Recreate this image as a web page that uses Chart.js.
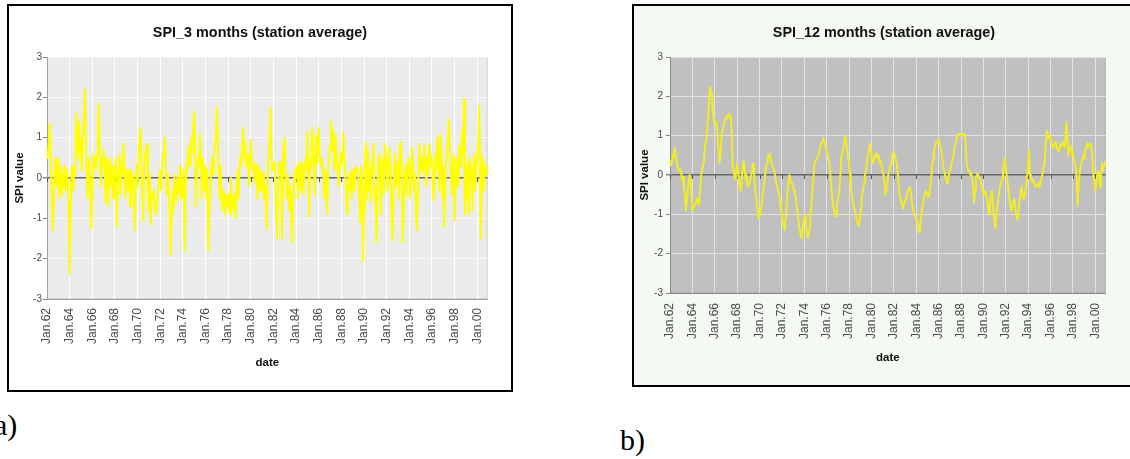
<!DOCTYPE html>
<html>
<head>
<meta charset="utf-8">
<script src="https://cdn.jsdelivr.net/npm/chart.js@4"></script>
<style>
  body { margin: 0; background: #fff; overflow: hidden; width: 1130px; height: 459px; position: relative; }
  .box { position: absolute; border: 2px solid #000; }
  #boxA { left: 7px; top: 4px; width: 502px; height: 384px; background: #fff; }
  #boxB { left: 632px; top: 4px; width: 496px; height: 379px; background: #f4f9f3; }
  canvas { display: block; }
  .tag { position: absolute; font-family: 'Liberation Serif', 'Times New Roman', serif; font-size: 30px; line-height: 1; color: #000; }
</style>
</head>
<body>
<div class="box" id="boxA"><canvas id="chartA" width="502" height="384"></canvas></div>
<div class="box" id="boxB"><canvas id="chartB" width="496" height="379"></canvas></div>
<div class="tag" style="left:-6px; top:410px;">a)</div>
<div class="tag" style="left:620px; top:425px;">b)</div>

<script>
'use strict';

// categories: one per month, Jan.62 to Dec.00
let months = ['Jan', 'Feb', 'Mar', 'Apr', 'May', 'Jun', 'Jul', 'Aug', 'Sep', 'Oct', 'Nov', 'Dec'];
let years = ['62', '63', '64', '65', '66', '67', '68', '69', '70', '71', '72', '73', '74',
  '75', '76', '77', '78', '79', '80', '81', '82', '83', '84', '85', '86', '87', '88',
  '89', '90', '91', '92', '93', '94', '95', '96', '97', '98', '99', '00'];
let yTicks = [-3, -2, -1, 0, 1, 2, 3];

// SPI 3 months, one row per year
let spi3 = [
  0.5, 0.6, 0.9, 1.35, 0.4, -0.3, -1.3, -0.7, 0.2, 0.5, -0.2, 0.4,
  0.5, -0.5, -0.2, 0.3, -0.4, 0.1, -0.2, 0.3, -0.3, 0.2, -0.1, -0.6,
  -2.38, -0.8, 0.2, 0.3, -0.3, 0.25, 0.1, 1.6, 1.0, 0.5, 1.4, 0.9,
  0.5, 0.2, 1.0, 1.5, 2.2, 1.2, 0.3, -0.5, 0.2, 0.5, -0.3, -1.25,
  -0.3, 0.6, 0.3, 0.5, 0.2, 0.6, 1.0, 1.85, 0.7, -0.2, 0.5, 0.3,
  0.7, 0.3, -0.6, 0.5, 0.2, -0.7, 0.4, 0.5, -0.2, 0.3, -0.5, 0.1,
  0.3, 0.5, -1.2, -0.3, 0.2, 0.6, -0.4, 0.3, 0.1, 0.85, 0.2, -0.5,
  0.2, 0.1, -0.3, 0.2, -0.7, 0.2, -0.3, 0.1, -0.5, -1.3, -0.4, 0.3,
  -0.2, 0.5, 0.9, 1.25, 0.5, -0.3, -1.05, 0.2, 0.6, 0.7, 0.85, -0.25,
  -0.8, 0.1, -1.15, -0.4, -0.5, -0.3, -0.6, -0.8, -0.9, -0.5, -0.2, 0.0,
  0.2, -0.3, 0.3, 0.6, 0.8, 1.0, 0.3, -0.4, 0.1, -0.3, -0.8, -1.9,
  -1.1, -0.3, -0.8, 0.1, -0.3, -0.6, 0.0, -0.4, -0.2, 0.3, -0.5, -0.2,
  -0.5, 0.2, -1.8, -0.3, 0.4, 0.2, 0.8, 0.5, 0.3, 1.0, 0.6, 1.2,
  1.65, 0.8, -0.7, 0.2, 0.5, 0.3, 1.1, 0.6, -0.5, 0.5, 0.2, -0.3,
  0.3, -0.5, 0.2, -1.8, -0.8, -0.4, 0.2, 0.5, 0.1, 0.6, 0.8, 1.0,
  1.75, 0.9, 0.2, -0.5, 0.3, -0.6, -0.8, -0.3, -0.5, -0.9, -0.4, -0.6,
  -0.7, -0.4, -0.9, 0.0, -0.5, -0.8, -0.6, -0.4, -1.0, -0.3, 0.2, -0.5,
  0.2, 0.5, 0.3, 0.8, 1.25, 0.5, 0.9, 0.3, 0.4, 0.6, -0.2, 0.3,
  0.95, 0.4, 0.2, 0.3, -0.1, 0.4, 0.2, -0.5, 0.3, 0.1, -0.3, 0.2,
  -0.3, 0.1, -0.5, -0.2, -0.6, -1.25, 0.2, 0.6, 1.0, 1.75, 0.5, 0.2,
  0.3, 0.4, -0.2, -0.8, -1.5, -0.3, 0.4, 0.2, 0.4, -1.5, 0.3, 0.85,
  1.0, 0.2, -0.5, 0.1, -0.3, -0.8, -0.2, -1.0, -1.6, -0.5, 0.0, 0.2,
  0.0, 0.3, -0.5, 0.4, 0.2, -0.3, 0.4, 0.1, -0.4, 0.3, 0.5, 0.2,
  1.15, 0.3, -0.95, 0.4, 0.3, 1.25, 0.6, 0.2, -0.4, 1.05, 0.4, 0.8,
  1.25, 0.6, 0.3, 0.5, 0.2, 0.1, -0.5, 0.2, -0.3, -0.9, 0.3, 0.5,
  0.8, 1.4, 0.7, 1.2, 0.5, 0.2, 1.1, 0.4, 0.3, -0.2, 0.2, 0.6,
  0.3, 0.5, 1.15, 0.6, 0.1, -0.3, -0.88, -0.2, 0.1, -0.3, 0.2, -0.5,
  0.1, 0.2, -0.3, 0.2, 0.3, 0.2, 0.1, -0.4, -1.1, 0.3, 0.1, -2.05,
  -0.8, 0.3, 0.9, -0.5, 0.7, -0.3, 0.2, -0.6, 0.4, 0.2, 0.85, -0.5,
  -0.2, -1.6, -0.8, 0.3, 0.6, 0.2, -0.9, 0.5, 0.3, -0.4, 0.85, 0.6,
  0.2, -0.3, 0.4, 0.75, 0.3, -0.6, -1.55, -0.8, 0.2, 0.6, -0.2, 0.3,
  0.4, -0.5, 0.75, 0.9, 0.2, -1.6, -0.8, 0.1, 0.3, -0.4, 0.2, 0.5,
  0.3, -0.5, 0.2, 0.75, 0.3, -0.3, 0.1, -0.6, -1.3, -0.5, 0.3, 0.85,
  0.2, 0.5, 0.1, 0.3, 0.8, 0.4, -0.2, 0.5, 0.1, 0.85, 0.6, 0.3,
  0.5, -0.2, -0.55, 0.3, 0.6, 0.2, 1.0, 0.4, -0.3, 1.1, 0.6, -0.5,
  0.3, -1.2, -0.3, 0.4, 0.8, 1.0, 1.45, 0.5, 0.2, -0.4, 0.3, 0.6,
  -1.05, -0.3, 0.5, 0.2, -0.2, 0.8, 0.4, 0.3, 1.2, 0.6, 1.95, -0.9,
  0.3, -0.5, 0.4, -0.9, 0.5, 0.2, 0.1, -0.8, 0.3, 0.6, -0.3, 0.2,
  0.5, 0.8, 1.8, 0.6, -1.5, 0.2, 0.5, -0.3, 0.3, 0.35, 0.1, 0.2
];

// SPI 12 months, one row per year
let spi12 = [
  0.35, 0.25, 0.3, 0.5, 0.45, 0.7, 0.5, 0.4, 0.2, 0.15, 0.1, 0.15,
  0.05, -0.1, -0.05, -0.3, -0.5, -0.9, -0.7, -0.4, -0.2, 0.0, -0.1, -0.5,
  -0.9, -0.85, -0.8, -0.75, -0.7, -0.6, -0.7, -0.75, -0.5, -0.1, 0.1, 0.2,
  0.3, 0.55, 0.8, 0.9, 1.2, 1.5, 1.9, 2.25, 2.1, 2.0, 1.6, 1.4,
  1.3, 1.35, 1.3, 1.0, 0.6, 0.3, 0.5, 0.9, 1.1, 1.2, 1.3, 1.4,
  1.45, 1.5, 1.45, 1.55, 1.55, 1.5, 1.2, 0.3, 0.1, 0.0, -0.1, 0.1,
  0.3, 0.1, -0.2, -0.3, -0.4, -0.1, 0.2, 0.35, 0.2, -0.1, 0.0, -0.2,
  -0.3, -0.2, -0.1, 0.0, 0.1, 0.3, 0.1, -0.3, -0.5, -0.7, -0.9, -1.1,
  -1.05, -0.95, -0.8, -0.6, -0.4, -0.2, 0.0, 0.2, 0.3, 0.5, 0.45, 0.55,
  0.4, 0.3, 0.2, 0.15, 0.1, -0.1, -0.2, -0.3, -0.4, -0.5, -0.7, -0.9,
  -1.0, -1.2, -1.3, -1.4, -1.1, -0.8, -0.4, -0.2, 0.0, -0.1, -0.2, -0.2,
  -0.3, -0.4, -0.5, -0.6, -0.8, -1.0, -1.2, -1.4, -1.5, -1.6, -1.4, -1.2,
  -1.1, -1.0, -1.3, -1.5, -1.6, -1.6, -1.3, -0.9, -0.6, -0.3, 0.0, 0.3,
  0.35, 0.4, 0.45, 0.5, 0.6, 0.7, 0.8, 0.85, 0.95, 0.9, 0.8, 0.7,
  0.6, 0.5, 0.4, 0.3, 0.0, -0.3, -0.6, -0.8, -0.9, -1.0, -1.05, -0.8,
  -0.6, -0.5, -0.2, 0.1, 0.5, 0.6, 0.7, 0.85, 1.0, 0.8, 0.6, 0.4,
  0.3, 0.0, -0.3, -0.5, -0.7, -0.8, -0.9, -1.0, -1.1, -1.2, -1.3, -1.2,
  -1.0, -0.8, -0.5, -0.4, -0.2, 0.0, 0.1, 0.3, 0.5, 0.6, 0.8, 0.7,
  0.5, 0.3, 0.35, 0.4, 0.5, 0.55, 0.45, 0.5, 0.4, 0.3, 0.35, 0.2,
  0.1, 0.0, -0.2, -0.5, -0.4, -0.2, 0.0, 0.1, 0.2, 0.3, 0.5, 0.55,
  0.6, 0.5, 0.4, 0.3, 0.1, -0.2, -0.5, -0.6, -0.7, -0.8, -0.85, -0.7,
  -0.65, -0.6, -0.5, -0.4, -0.35, -0.3, -0.4, -0.6, -0.8, -0.9, -1.0, -1.05,
  -1.1, -1.2, -1.3, -1.45, -1.3, -1.1, -0.9, -0.8, -0.6, -0.5, -0.4, -0.45,
  -0.5, -0.55, -0.5, -0.3, -0.1, 0.2, 0.4, 0.6, 0.75, 0.8, 0.85, 0.85,
  0.9, 0.8, 0.7, 0.6, 0.4, 0.2, 0.1, 0.0, -0.1, -0.2, -0.1, 0.0,
  0.1, 0.2, 0.3, 0.4, 0.5, 0.7, 0.8, 0.9, 1.0, 1.05, 1.05, 1.0,
  1.05, 1.05, 1.0, 1.05, 1.05, 0.8, 0.3, 0.2, 0.1, 0.1, 0.0, 0.05,
  -0.1, -0.3, -0.7, -0.4, -0.1, 0.0, 0.05, -0.05, -0.1, -0.1, -0.3, -0.4,
  -0.5, -0.45, -0.4, -0.5, -0.6, -0.8, -1.0, -0.8, -0.5, -0.4, -0.7, -1.0,
  -1.2, -1.35, -1.0, -0.8, -0.6, -0.4, -0.3, -0.2, -0.1, 0.1, 0.3, 0.45,
  0.2, 0.0, -0.2, -0.4, -0.6, -0.8, -0.9, -0.8, -0.7, -0.6, -0.8, -1.0,
  -1.1, -1.12, -0.8, -0.6, -0.4, -0.3, -0.5, -0.6, -0.6, -0.4, -0.2, 0.0,
  0.3, 0.65, 0.0, -0.1, -0.15, -0.1, -0.2, -0.25, -0.3, -0.3, -0.25, -0.2,
  -0.3, -0.2, -0.1, 0.0, 0.1, 0.3, 0.5, 0.8, 1.12, 1.05, 0.95, 1.0,
  0.9, 0.8, 0.75, 0.7, 0.75, 0.85, 0.8, 0.7, 0.65, 0.6, 0.7, 0.8,
  0.75, 0.8, 0.85, 0.7, 0.9, 1.35, 1.0, 0.5, 0.6, 0.7, 0.75, 0.6,
  0.5, 0.4, 0.3, 0.2, -0.1, -0.78, -0.3, 0.0, 0.2, 0.3, 0.4, 0.5,
  0.4, 0.6, 0.7, 0.8, 0.7, 0.75, 0.8, 0.8, 0.7, 0.4, 0.0, -0.2,
  -0.4, -0.2, 0.0, 0.1, 0.0, -0.3, -0.1, 0.3, 0.1, 0.2, 0.3, 0.35
];

let labels = [];
for (let y = 0; y < years.length; y++) {
  for (let m = 0; m < months.length; m++) {
    labels.push(months[m] + '.' + years[y]);
  }
}

Chart.defaults.font.family = "'Liberation Sans', Arial, sans-serif";
Chart.defaults.color = '#4a4a4a';

// grey plot area with a thin frame
let plotBg = {
  id: 'plotBg',
  beforeDraw(chart, args, opts) {
    let c = chart.ctx;
    let a = chart.chartArea;
    c.save();
    c.fillStyle = opts.color;
    c.fillRect(a.left, a.top, a.width, a.height);
    c.strokeStyle = opts.frame;
    c.lineWidth = 1;
    c.strokeRect(a.left + 0.5, a.top + 0.5, a.width - 1, a.height - 1);
    c.restore();
  }
};

// small tick marks hanging under the zero line
let zeroTicks = {
  id: 'zeroTicks',
  beforeDatasetsDraw(chart) {
    let c = chart.ctx;
    let x = chart.scales.x;
    let y0 = chart.scales.y.getPixelForValue(0);
    c.save();
    c.strokeStyle = '#555';
    c.lineWidth = 1;
    c.beginPath();
    for (let i = 0; i < labels.length; i += 24) {
      let px = Math.round(x.getPixelForValue(i)) + 0.5;
      c.moveTo(px, y0);
      c.lineTo(px, y0 + 4);
    }
    c.stroke();
    c.restore();
  }
};

function makeChart(id, s) {
  let ctx = document.getElementById(id).getContext('2d');
  return new Chart(ctx, {
    type: 'line',
    data: {
      labels: labels,
      datasets: [{
        label: s.title,
        data: s.data,
        borderColor: s.lineColor,
        borderWidth: s.lineWidth,
        borderJoinStyle: 'round',
        pointRadius: 0,
        tension: 0,
        fill: false
      }]
    },
    options: {
      responsive: false,
      animation: false,
      events: [],
      layout: { padding: s.padding },
      plugins: {
        legend: { display: false },
        tooltip: { enabled: false },
        title: {
          display: true,
          text: s.title,
          color: '#111',
          font: { size: 14.4, weight: 'bold' },
          padding: { top: 0, bottom: 15.4 }
        },
        plotBg: { color: s.plotColor, frame: s.frameColor }
      },
      scales: {
        x: {
          type: 'category',
          offset: false,
          afterFit(scale) { scale.height = s.xHeight; },
          grid: {
            drawTicks: false,
            color: (c) => (c.index % 24 === 0 ? s.gridColor : 'rgba(0,0,0,0)'),
            lineWidth: 1
          },
          border: { color: s.axisColor },
          ticks: {
            autoSkip: false,
            minRotation: 90,
            maxRotation: 90,
            padding: s.xPad,
            font: { size: 12 },
            callback: function (val, index) {
              return index % 24 === 0 ? this.getLabelForValue(val) : '';
            }
          },
          title: {
            display: true,
            text: 'date',
            color: '#111',
            font: { size: 11.5, weight: 'bold' },
            padding: { top: 0, bottom: 0 }
          }
        },
        y: {
          min: yTicks[0],
          max: yTicks[yTicks.length - 1],
          afterFit(scale) { scale.width = s.yWidth; },
          afterBuildTicks(scale) { scale.ticks = yTicks.map((v) => ({ value: v })); },
          grid: {
            color: (c) => (c.tick && c.tick.value === 0 ? '#666' : s.hGridColor),
            lineWidth: (c) => (c.tick && c.tick.value === 0 ? 1.5 : 1),
            tickColor: '#888',
            tickLength: 4
          },
          border: { color: s.axisColor },
          ticks: {
            padding: s.yPad,
            font: { size: 10 }
          },
          title: {
            display: true,
            text: 'SPI value',
            color: '#111',
            font: { size: 11.5, weight: 'bold' },
            padding: { top: s.yTitlePad, bottom: 0 }
          }
        }
      }
    },
    plugins: [plotBg, zeroTicks]
  });
}

makeChart('chartA', {
  title: 'SPI_3 months (station average)',
  data: spi3,
  lineColor: '#ffff00',
  lineWidth: 2,
  plotColor: '#ebebeb',
  frameColor: '#cfcfcf',
  gridColor: '#ffffff',
  hGridColor: '#f6f6f6',
  axisColor: '#a0a0a0',
  padding: { left: 14, right: 14, top: 18.4, bottom: 20.4 },
  xHeight: 70.6,
  yWidth: 24,
  xPad: 9,
  yPad: 1,
  yTitlePad: -9.6
});

makeChart('chartB', {
  title: 'SPI_12 months (station average)',
  data: spi12,
  lineColor: '#f0ec2a',
  lineWidth: 2,
  plotColor: '#c0c0c0',
  frameColor: '#b0b0b0',
  gridColor: '#e2e2e2',
  hGridColor: '#e2e2e2',
  axisColor: '#8a8a8a',
  padding: { left: 13, right: 9, top: 18.4, bottom: 20.4 },
  xHeight: 71.6,
  yWidth: 23,
  xPad: 10,
  yPad: 3,
  yTitlePad: -8.6
});
</script>
</body>
</html>
